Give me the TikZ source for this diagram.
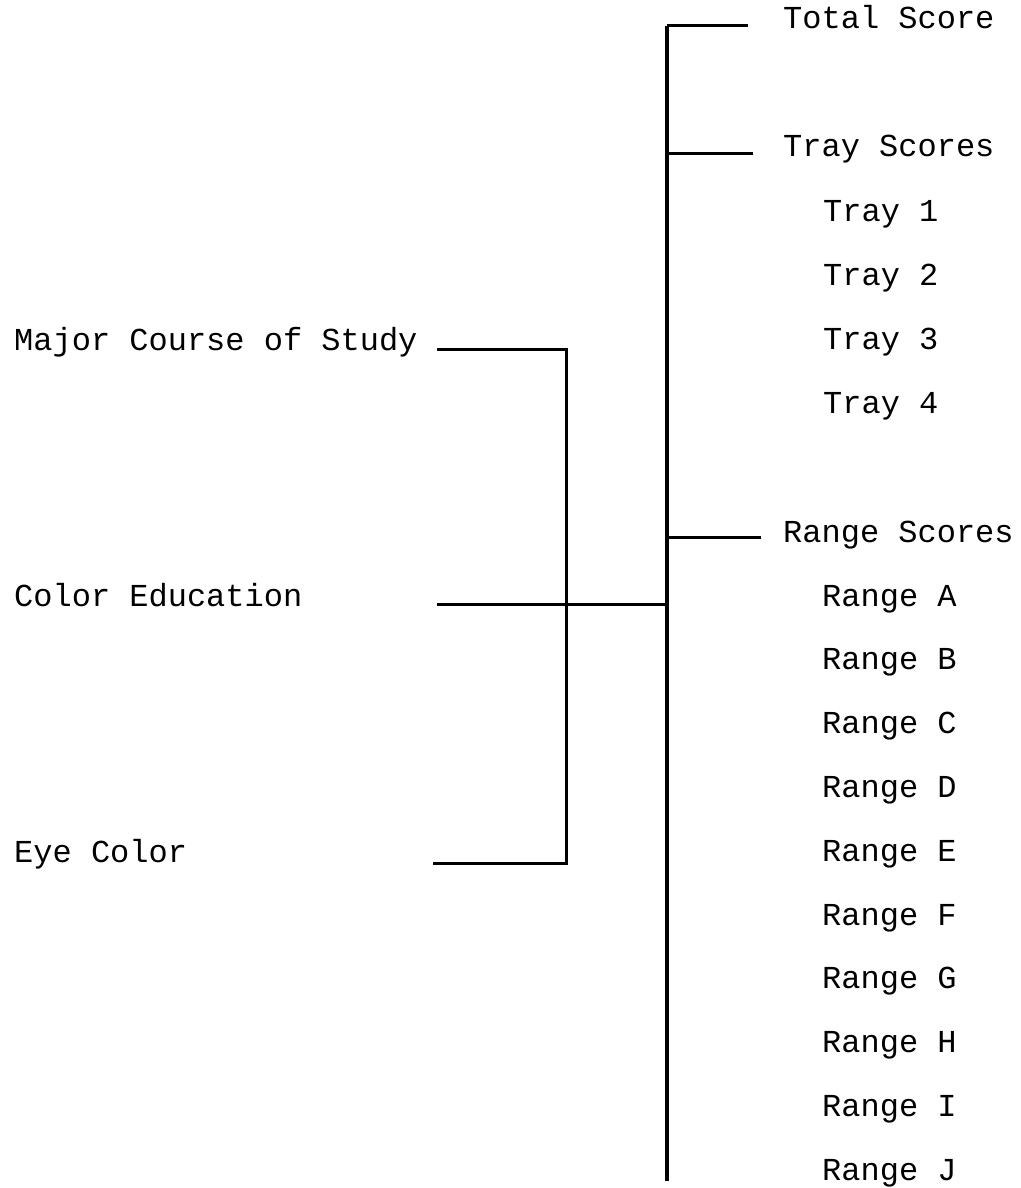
\documentclass[tikz,border=0pt]{standalone}
\usepackage{fontspec}
\setmonofont{Liberation Mono}
\begin{document}
\begin{tikzpicture}[x=1pt,y=-1pt,
  lbl/.style={anchor=base west,inner sep=0pt,font=\fontsize{32}{36}\selectfont\ttfamily},
  ln/.style={line width=3pt},
  mainln/.style={line width=3.6pt}]
\useasboundingbox (0,0) rectangle (1020,1188);
% main trunk
\coordinate (top) at (667,26);
\coordinate (bot) at (667,1181);
\draw[mainln] (top) -- (bot);
% right labels
\node[lbl] (total) at (783,29) {Total Score};
\node[lbl] (tray) at (783,157) {Tray Scores};
\node[lbl] (t1) at (823,221) {Tray 1};
\node[lbl] (t2) at (823,285) {Tray 2};
\node[lbl] (t3) at (823,349) {Tray 3};
\node[lbl] (t4) at (823,413) {Tray 4};
\node[lbl] (range) at (783,542) {Range Scores};
\foreach \l [count=\i from 0] in {A,B,C,D,E,F,G,H,I,J}{
  \node[lbl] (r\l) at (822,{606+63.8*\i}) {Range \l};
}
% right branches
\coordinate (bTotal) at (667,26);
\coordinate (eTotal) at (748,26);
\coordinate (bTray) at (667,153);
\coordinate (eTray) at (753,153);
\coordinate (bRange) at (667,537);
\coordinate (eRange) at (761,537);
\draw[ln] (bTotal) -- (eTotal);
\draw[ln] (bTray) -- (eTray);
\draw[ln] (bRange) -- (eRange);
% left labels
\node[lbl] (major) at (14,350) {Major Course of Study};
\node[lbl] (color) at (14,606) {Color Education};
\node[lbl] (eye) at (14,862) {Eye Color};
% left connectors
\coordinate (sMajor) at (437,349);
\coordinate (kMajor) at (566,349);
\coordinate (sColor) at (437,604);
\coordinate (kColor) at (667,604);
\coordinate (sEye) at (433,863);
\coordinate (kEye) at (566,863);
\draw[ln,line join=miter] (sMajor) -- (kMajor) -- (kEye) -- (sEye);
\draw[ln] (sColor) -- (kColor);
\end{tikzpicture}
\end{document}
